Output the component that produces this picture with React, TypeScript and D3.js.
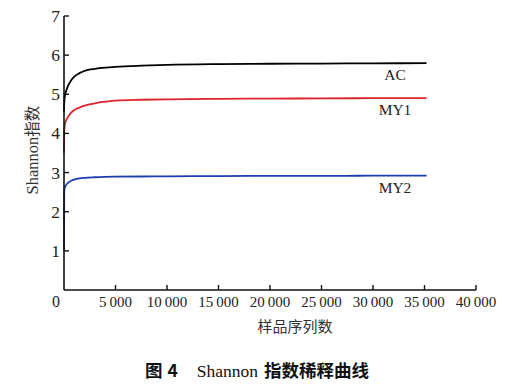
import React from "react";
import * as d3 from "d3";

const depths = [0, 20, 50, 100, 200, 400, 700, 1000, 1500, 2000, 3000, 4000, 5000, 7500, 10000, 15000, 20000, 25000, 30000, 35200];
const acValues = [4.55, 4.75, 4.88, 4.98, 5.08, 5.22, 5.36, 5.45, 5.54, 5.6, 5.65, 5.68, 5.7, 5.73, 5.75, 5.77, 5.78, 5.785, 5.79, 5.795];
const my1Values = [3.5, 4.05, 4.15, 4.25, 4.33, 4.43, 4.53, 4.6, 4.66, 4.71, 4.77, 4.81, 4.84, 4.86, 4.87, 4.885, 4.89, 4.895, 4.9, 4.9];
const my2Values = [1.0, 2.5, 2.58, 2.63, 2.68, 2.74, 2.79, 2.82, 2.85, 2.865, 2.88, 2.89, 2.895, 2.9, 2.905, 2.91, 2.915, 2.915, 2.92, 2.92];
const seriesNames = ["AC", "MY1", "MY2"];
const seriesColors = ["#000000", "#de2329", "#1c3cb0"];
const xTicks = [5000, 10000, 15000, 20000, 25000, 30000, 35000, 40000];
const yTicks = [1, 2, 3, 4, 5, 6, 7];

const serif = "'Liberation Serif', 'Times New Roman', 'Noto Sans CJK SC', serif";
const cjk = "'Noto Sans CJK SC', sans-serif";

export default function App() {
  const x = d3.scaleLinear().domain([0, 40000]).range([64, 476]);
  const y = d3.scaleLinear().domain([0, 7]).range([290, 16]);
  const line = d3
    .line<number>()
    .x((_, i) => x(depths[i]))
    .y((v) => y(v))
    .curve(d3.curveMonotoneX);
  const all = [acValues, my1Values, my2Values];
  const fmt = (v: number) => {
    const s = String(v);
    return s.length > 3 ? s.slice(0, s.length - 3) + "\u2009" + s.slice(-3) : s;
  };
  return (
    <svg width={520} height={387} style={{ position: "absolute", left: 0, top: 0, background: "#fff" }}>
      {all.map((vals, k) => (
        <path key={k} d={line(vals) || ""} fill="none" stroke={seriesColors[k]} strokeWidth={1.8} />
      ))}
      {/* axes */}
      <line x1={x(0)} x2={x(0)} y1={y(7)} y2={y(0)} stroke="#111" strokeWidth={1.6} />
      <line x1={x(0)} x2={x(40000)} y1={y(0)} y2={y(0)} stroke="#111" strokeWidth={1.6} />
      {yTicks.map((t) => (
        <g key={t}>
          <line x1={x(0)} x2={x(0) + 5} y1={y(t)} y2={y(t)} stroke="#111" strokeWidth={1.4} />
          <text x={60} y={y(t) + 6} textAnchor="end" fontFamily={serif} fontSize={17.5} fill="#222">
            {t}
          </text>
        </g>
      ))}
      <text x={56} y={307} textAnchor="middle" fontFamily={serif} fontSize={16} fill="#222">
        0
      </text>
      {xTicks.map((t) => (
        <g key={t}>
          <line x1={x(t)} x2={x(t)} y1={y(0)} y2={y(0) - 5} stroke="#111" strokeWidth={1.4} />
          <text x={x(t)} y={307} textAnchor="middle" fontFamily={serif} fontSize={15} fill="#222">
            {fmt(t)}
          </text>
        </g>
      ))}
      {/* series labels */}
      {seriesNames.map((n, k) => (
        <text
          key={n}
          x={395}
          y={y(all[k][all[k].length - 1]) + 17}
          textAnchor="middle"
          fontFamily={serif}
          fontSize={15.5}
          fill="#222"
        >
          {n}
        </text>
      ))}
      {/* axis titles */}
      <text x={295} y={332} textAnchor="middle" fontFamily={cjk} fontSize={15} fill="#333">
        样品序列数
      </text>
      <text
        transform={`translate(38,150) rotate(-90)`}
        textAnchor="middle"
        fontFamily={serif}
        fontSize={16.5}
        fill="#333"
      >
        Shannon<tspan fontFamily={cjk} fontSize={15.5}>指数</tspan>
      </text>
      {/* caption */}
      <text x={145} y={377} fontSize={17.5} fill="#111">
        <tspan fontFamily={cjk} fontWeight="bold">图</tspan>
        <tspan fontFamily={cjk} fontWeight="bold" dx={5}>4</tspan>
        <tspan fontFamily={serif} dx={19}>Shannon</tspan>
        <tspan fontFamily={cjk} fontWeight="bold" dx={6}>指数稀释曲线</tspan>
      </text>
    </svg>
  );
}
